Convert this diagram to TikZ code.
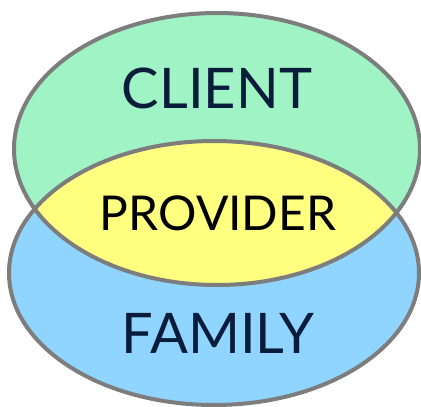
\documentclass[tikz,border=0pt]{standalone}
\usepackage{fontspec}
\setmainfont{Lato}
\definecolor{clientgreen}{RGB}{160,243,196}
\definecolor{familyblue}{RGB}{143,213,255}
\definecolor{provideryellow}{RGB}{255,255,128}
\definecolor{rimgray}{RGB}{125,125,125}
\definecolor{labelnavy}{RGB}{10,28,60}
\begin{document}
\begin{tikzpicture}[x=1pt,y=-1pt]
      \tikzset{rim/.style={draw=rimgray, line width=4pt},
          biglabel/.style={text=labelnavy, font=\fontsize{56}{60}\selectfont, inner sep=0pt},
          midlabel/.style={text=black, font=\fontsize{48}{52}\selectfont, inner sep=0pt}}
      \useasboundingbox (0,0) rectangle (421,407);
      \fill[clientgreen] (217,149) ellipse [x radius=203, y radius=136];
      \fill[familyblue] (214,273) ellipse [x radius=205, y radius=132];
      \begin{scope}
          \clip (217,149) ellipse [x radius=203, y radius=136];
          \fill[provideryellow] (214,273) ellipse [x radius=205, y radius=132];
      \end{scope}
      \draw[rim] (217,149) ellipse [x radius=203, y radius=136];
      \draw[rim] (214,273) ellipse [x radius=205, y radius=132];
      \node[biglabel] (client) at (217,88) {CLIENT};
      \node[midlabel] (provider) at (218,213) {PROVIDER};
      \node[biglabel] (family) at (218,333) {FAMILY};
    \end{tikzpicture}
\end{document}
